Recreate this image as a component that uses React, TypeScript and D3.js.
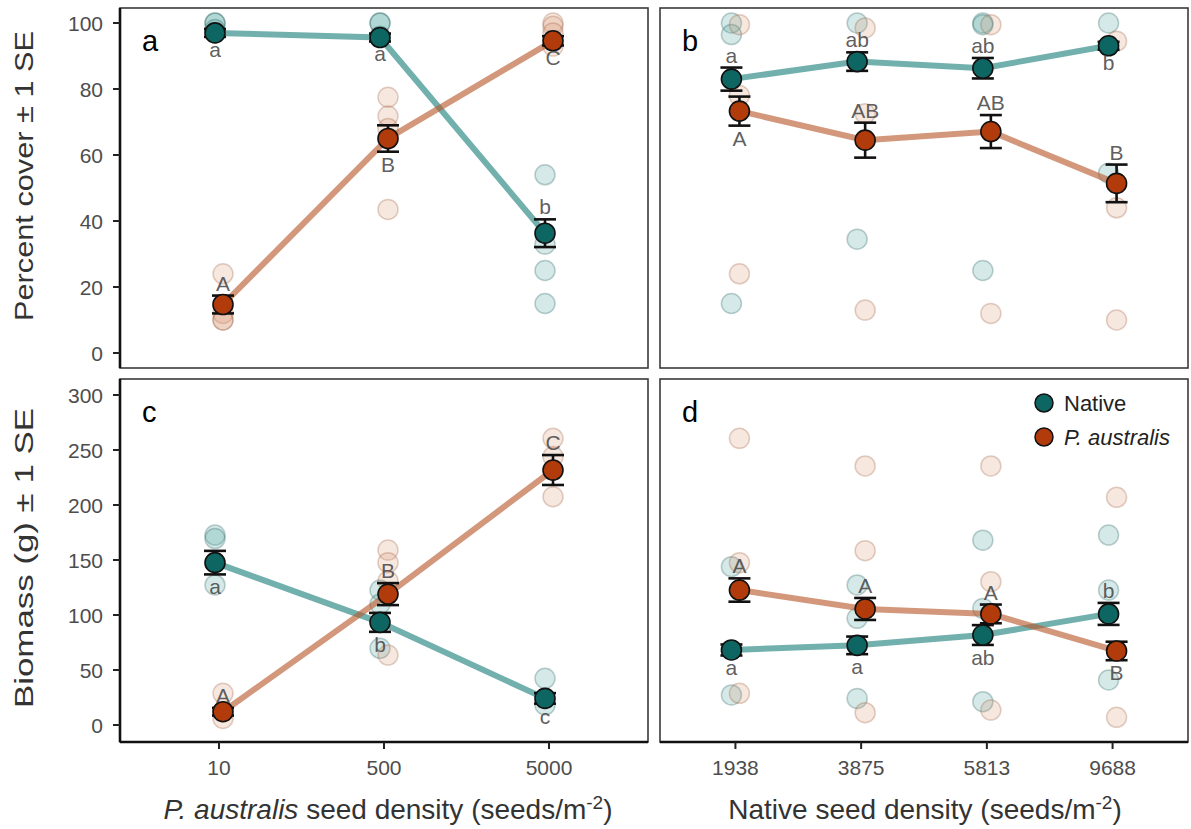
import React from "react";
import * as d3 from "d3";

// Category labels on the two kinds of x axis
const pDensity = ["10", "500", "5000"];
const nativeDensity = ["1938", "3875", "5813", "9688"];

// Axis tick values
const coverTicks = [0, 20, 40, 60, 80, 100];
const biomassTicks = [0, 50, 100, 150, 200, 250, 300];

// Panel a: percent cover vs P. australis seed density
const aNativeMean = [97, 95.6, 36.3];
const aNativeSE = [1.2, 1.2, 4.2];
const aInvMean = [14.7, 65, 94.6];
const aInvSE = [2.7, 4, 1.4];
const aNativeRaw = [[100, 100, 98], [100, 100, 96], [54, 33, 25, 15]];
const aInvRaw = [[24, 12, 10, 10], [77.5, 71.8, 68, 43.5], [100, 99, 97, 93]];
const aNativeLetters = ["a", "a", "b"];
const aNativeSide = ["below", "below", "above"];
const aInvLetters = ["A", "B", "C"];
const aInvSide = ["above", "below", "below"];

// Panel b: percent cover vs native seed density
const bNativeMean = [83, 88.3, 86.3, 93.1];
const bNativeSE = [3.5, 2.8, 3.1, 1.2];
const bInvMean = [73.3, 64.5, 67.1, 51.4];
const bInvSE = [4.4, 5.3, 5, 5.7];
const bNativeRaw = [[100, 96.5, 15], [100, 34.5], [100, 99.5, 25], [100, 54.5]];
const bInvRaw = [[99.5, 78, 24], [98.5, 72.5, 13], [99.5, 12], [94.5, 44, 10]];
const bNativeLetters = ["a", "ab", "ab", "b"];
const bNativeSide = ["above", "above", "above", "below"];
const bInvLetters = ["A", "AB", "AB", "B"];
const bInvSide = ["below", "above", "above", "above"];

// Panel c: biomass vs P. australis seed density
const cNativeMean = [147.6, 93.3, 24.2];
const cNativeSE = [10.7, 8.6, 4.8];
const cInvMean = [12.1, 119, 231.8];
const cInvSE = [3.5, 10, 13.6];
const cNativeRaw = [[172.7, 169.5, 127.3], [122.7, 110, 69.7], [42.4, 18.2]];
const cInvRaw = [[28.8, 6], [159, 147.6, 131, 63.6], [260.6, 244, 207.5]];
const cNativeLetters = ["a", "b", "c"];
const cNativeSide = ["below", "below", "below"];
const cInvLetters = ["A", "B", "C"];
const cInvSide = ["above", "above", "above"];

// Panel d: biomass vs native seed density
const dNativeMean = [68.2, 72.4, 81.8, 101];
const dNativeSE = [5, 8, 9, 10];
const dInvMean = [122.7, 105.5, 101, 67.3];
const dInvSE = [10.6, 10, 8.5, 8.4];
const dNativeRaw = [[143.9, 27.3], [127.3, 97, 24.2], [168, 106, 21.2], [172.7, 122.7, 40.9]];
const dInvRaw = [[260.6, 147.6, 28.8], [235.5, 158.5, 11.2], [235.5, 130.3, 13.6], [207, 7]];
const dNativeLetters = ["a", "a", "ab", "b"];
const dNativeSide = ["below", "below", "below", "above"];
const dInvLetters = ["A", "A", "A", "B"];
const dInvSide = ["above", "above", "above", "below"];

const FONT = "'Liberation Sans', Arial, Helvetica, sans-serif";

const NATIVE = {
  mean: "#0e6663",
  line: "#1c7f7b",
  raw: "#3a9a96",
  rawStroke: "#25605e",
  dx: -4,
};
const INVASIVE = {
  mean: "#b23b0b",
  line: "#b8582c",
  raw: "#d8906c",
  rawStroke: "#a0603f",
  dx: 4,
};

type Series = {
  mean: number[];
  se: number[];
  raw: number[][];
  letters: string[];
  side: string[];
  style: typeof NATIVE;
};

type PanelProps = {
  label: string;
  box: { x0: number; x1: number; y0: number; y1: number };
  cats: string[];
  yMax: number;
  ticks: number[] | null;
  xAxis: boolean;
  topPad: number;
  bottomPad: number;
  series: Series[];
  legend?: boolean;
};

function Panel(p: PanelProps) {
  const { box, cats } = p;
  const x = d3.scalePoint<string>().domain(cats).range([box.x0, box.x1]).padding(0.6);
  const y = d3
    .scaleLinear()
    .domain([0, p.yMax])
    .range([box.y1 - p.bottomPad, box.y0 + p.topPad]);

  const line = d3
    .line<number>()
    .x((_, i) => (x(cats[i]) as number))
    .y((v) => y(v));

  return (
    <g>
      {/* frame */}
      <rect
        x={box.x0}
        y={box.y0}
        width={box.x1 - box.x0}
        height={box.y1 - box.y0}
        fill="white"
        stroke="#3a3a3a"
        strokeWidth={1.6}
      />
      {p.ticks && (
        <line x1={box.x0} x2={box.x0} y1={box.y0} y2={box.y1} stroke="#111" strokeWidth={2.6} />
      )}
      {p.xAxis && (
        <line x1={box.x0} x2={box.x1} y1={box.y1} y2={box.y1} stroke="#111" strokeWidth={2.6} />
      )}
      {p.ticks &&
        p.ticks.map((t) => (
          <g key={t}>
            <line x1={box.x0 - 7} x2={box.x0} y1={y(t)} y2={y(t)} stroke="#222" strokeWidth={2} />
            <text
              x={box.x0 - 17}
              y={y(t)}
              dy="0.36em"
              textAnchor="end"
              fontSize={21}
              fill="#4d4d4d"
              fontFamily={FONT}
            >
              {t}
            </text>
          </g>
        ))}
      {p.xAxis &&
        cats.map((c) => (
          <g key={c}>
            <line
              x1={x(c)}
              x2={x(c)}
              y1={box.y1}
              y2={box.y1 + 7}
              stroke="#222"
              strokeWidth={2}
            />
            <text
              x={x(c)}
              y={box.y1 + 33}
              textAnchor="middle"
              fontSize={21}
              fill="#4d4d4d"
              fontFamily={FONT}
            >
              {c}
            </text>
          </g>
        ))}

      {/* replicate observations */}
      {p.series.map((s, si) =>
        s.raw.map((vals, ci) =>
          vals.map((v, k) => (
            <circle
              key={`r${si}-${ci}-${k}`}
              cx={(x(cats[ci]) as number) + s.style.dx}
              cy={y(v)}
              r={10}
              fill={s.style.raw}
              fillOpacity={0.22}
              stroke={s.style.rawStroke}
              strokeOpacity={0.3}
              strokeWidth={1.5}
            />
          ))
        )
      )}

      {/* treatment means joined by lines */}
      {p.series.map((s, si) => (
        <path
          key={`l${si}`}
          d={line(s.mean) as string}
          transform={`translate(${s.style.dx},0)`}
          fill="none"
          stroke={s.style.line}
          strokeOpacity={0.62}
          strokeWidth={6}
        />
      ))}

      {/* error bars */}
      {p.series.map((s, si) =>
        s.mean.map((m, ci) => {
          const cx = (x(cats[ci]) as number) + s.style.dx;
          const top = y(m + s.se[ci]);
          const bot = y(m - s.se[ci]);
          return (
            <g key={`e${si}-${ci}`} stroke="#111" strokeWidth={2.6}>
              <line x1={cx} x2={cx} y1={top} y2={bot} />
              <line x1={cx - 11} x2={cx + 11} y1={top} y2={top} />
              <line x1={cx - 11} x2={cx + 11} y1={bot} y2={bot} />
            </g>
          );
        })
      )}

      {/* mean points */}
      {p.series.map((s, si) =>
        s.mean.map((m, ci) => (
          <circle
            key={`m${si}-${ci}`}
            cx={(x(cats[ci]) as number) + s.style.dx}
            cy={y(m)}
            r={10}
            fill={s.style.mean}
            stroke="#111"
            strokeWidth={1.6}
          />
        ))
      )}

      {/* significance letters */}
      {p.series.map((s, si) =>
        s.mean.map((m, ci) => {
          const cx = (x(cats[ci]) as number) + s.style.dx;
          const above = s.side[ci] === "above";
          const yy = above ? y(m + s.se[ci]) - 5 : y(m - s.se[ci]) + 20;
          return (
            <text
              key={`t${si}-${ci}`}
              x={cx}
              y={yy}
              textAnchor="middle"
              fontSize={21}
              fill="#4a4a4a"
              fillOpacity={0.9}
              fontFamily={FONT}
            >
              {s.letters[ci]}
            </text>
          );
        })
      )}

      <text x={box.x0 + 22} y={box.y0 + 43} fontSize={29} fill="#000" fontFamily={FONT}>
        {p.label}
      </text>

      {p.legend && (
        <g fontFamily={FONT} fontSize={22} fill="#222">
          <circle cx={box.x0 + 384} cy={box.y0 + 24} r={9} fill={NATIVE.mean} stroke="#111" strokeWidth={1.5} />
          <text x={box.x0 + 404} y={box.y0 + 32}>Native</text>
          <circle cx={box.x0 + 384} cy={box.y0 + 58} r={9} fill={INVASIVE.mean} stroke="#111" strokeWidth={1.5} />
          <text x={box.x0 + 404} y={box.y0 + 66} fontStyle="italic">P. australis</text>
        </g>
      )}
    </g>
  );
}

export default function App() {
  const W = 1191;
  const H = 829;
  const boxA = { x0: 120, x1: 648, y0: 8, y1: 368 };
  const boxB = { x0: 660, x1: 1188, y0: 8, y1: 368 };
  const boxC = { x0: 120, x1: 648, y0: 379, y1: 742 };
  const boxD = { x0: 660, x1: 1188, y0: 379, y1: 742 };

  const mk = (
    mean: number[], se: number[], raw: number[][], letters: string[], side: string[], style: typeof NATIVE
  ): Series => ({ mean, se, raw, letters, side, style });

  return (
    <svg
      width={W}
      height={H}
      style={{ position: "absolute", left: 0, top: 0, background: "white" }}
    >
      <rect x={0} y={0} width={W} height={H} fill="white" />
      <Panel
        label="a"
        box={boxA}
        cats={pDensity}
        yMax={100}
        ticks={coverTicks}
        xAxis={false}
        topPad={15}
        bottomPad={15}
        series={[
          mk(aNativeMean, aNativeSE, aNativeRaw, aNativeLetters, aNativeSide, NATIVE),
          mk(aInvMean, aInvSE, aInvRaw, aInvLetters, aInvSide, INVASIVE),
        ]}
      />
      <Panel
        label="b"
        box={boxB}
        cats={nativeDensity}
        yMax={100}
        ticks={null}
        xAxis={false}
        topPad={15}
        bottomPad={15}
        series={[
          mk(bNativeMean, bNativeSE, bNativeRaw, bNativeLetters, bNativeSide, NATIVE),
          mk(bInvMean, bInvSE, bInvRaw, bInvLetters, bInvSide, INVASIVE),
        ]}
      />
      <Panel
        label="c"
        box={boxC}
        cats={pDensity}
        yMax={300}
        ticks={biomassTicks}
        xAxis={true}
        topPad={16}
        bottomPad={17}
        series={[
          mk(cNativeMean, cNativeSE, cNativeRaw, cNativeLetters, cNativeSide, NATIVE),
          mk(cInvMean, cInvSE, cInvRaw, cInvLetters, cInvSide, INVASIVE),
        ]}
      />
      <Panel
        label="d"
        box={boxD}
        cats={nativeDensity}
        yMax={300}
        ticks={null}
        xAxis={true}
        topPad={16}
        bottomPad={17}
        legend={true}
        series={[
          mk(dNativeMean, dNativeSE, dNativeRaw, dNativeLetters, dNativeSide, NATIVE),
          mk(dInvMean, dInvSE, dInvRaw, dInvLetters, dInvSide, INVASIVE),
        ]}
      />

      {/* axis titles */}
      <g fontFamily={FONT} fill="#333">
        <text
          transform="translate(33,176) rotate(-90)"
          textAnchor="middle"
          fontSize={25}
          textLength={290}
          lengthAdjust="spacingAndGlyphs"
        >
          Percent cover ± 1 SE
        </text>
        <text
          transform="translate(33,558) rotate(-90)"
          textAnchor="middle"
          fontSize={25}
          textLength={300}
          lengthAdjust="spacingAndGlyphs"
        >
          Biomass (g) ± 1 SE
        </text>
        <text x={388} y={819} textAnchor="middle" fontSize={28}>
          <tspan fontStyle="italic">P. australis</tspan>
          <tspan> seed density (seeds/m</tspan>
          <tspan fontSize={19} dy={-10}>-2</tspan>
          <tspan dy={10}>)</tspan>
        </text>
        <text x={925} y={819} textAnchor="middle" fontSize={28}>
          <tspan>Native seed density (seeds/m</tspan>
          <tspan fontSize={19} dy={-10}>-2</tspan>
          <tspan dy={10}>)</tspan>
        </text>
      </g>
    </svg>
  );
}
